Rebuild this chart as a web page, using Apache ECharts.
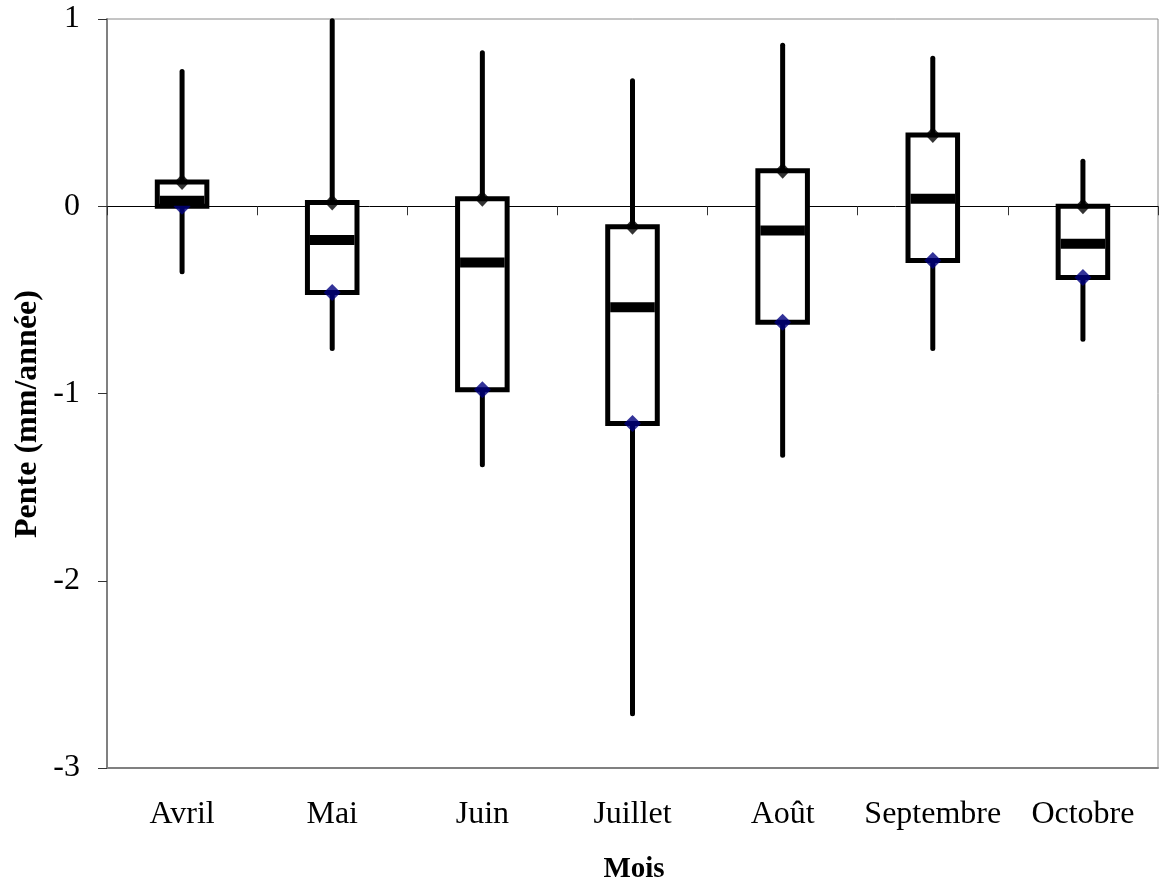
<!DOCTYPE html>
<html>
<head>
<meta charset="utf-8">
<style>
html,body{margin:0;padding:0;background:#fff;}
#chart{width:1160px;height:886px;}
</style>
<script src="https://cdn.jsdelivr.net/npm/echarts@6/dist/echarts.min.js"></script>
</head>
<body>
<div id="chart"></div>
<script>
const categories = ['Avril', 'Mai', 'Juin', 'Juillet', 'Août', 'Septembre', 'Octobre'];
const maxVals = [0.72, 0.99, 0.82, 0.67, 0.86, 0.79, 0.24];
const q3Vals  = [0.13, 0.02, 0.04, -0.11, 0.19, 0.38, 0.00];
const medVals = [0.03, -0.18, -0.30, -0.54, -0.13, 0.04, -0.20];
const q1Vals  = [0.00, -0.46, -0.98, -1.16, -0.62, -0.29, -0.38];
const minVals = [-0.35, -0.76, -1.38, -2.71, -1.33, -0.76, -0.71];
const yTicks = [-3, -2, -1, 0, 1];

const FONT = "'Liberation Serif', 'Times New Roman', serif";

const boxData = categories.map((c, i) => [i, maxVals[i], q3Vals[i], medVals[i], q1Vals[i], minVals[i]]);
const medData = categories.map((c, i) => [i, medVals[i]]);

function renderBox(params, api) {
  const i = api.value(0);
  const pMax = api.coord([i, api.value(1)]);
  const pQ3 = api.coord([i, api.value(2)]);
  const pQ1 = api.coord([i, api.value(4)]);
  const pMin = api.coord([i, api.value(5)]);
  const band = api.size([1, 0])[0];
  const bw = band * 0.33;
  const x = pMax[0];
  return {
    type: 'group',
    children: [
      {
        type: 'line',
        shape: { x1: x, y1: pMax[1], x2: x, y2: pMin[1] },
        style: { stroke: '#000', lineWidth: 5, lineCap: 'round' }
      },
      {
        type: 'rect',
        shape: { x: x - bw / 2, y: pQ3[1], width: bw, height: pQ1[1] - pQ3[1] },
        style: { fill: '#fff', stroke: '#000', lineWidth: 5 }
      }
    ]
  };
}

function renderMedian(params, api) {
  const i = api.value(0);
  const p = api.coord([i, api.value(1)]);
  const band = api.size([1, 0])[0];
  const bw = band * 0.33;
  const inner = bw - 5;
  return {
    type: 'rect',
    shape: { x: p[0] - inner / 2, y: p[1] - 5, width: inner, height: 10 },
    style: { fill: '#000' }
  };
}

const chart = echarts.init(document.getElementById('chart'), null, { renderer: 'canvas' });
chart.setOption({
  animation: false,
  backgroundColor: '#fff',
  grid: {
    left: 107, right: 2, top: 19, bottom: 118,
    show: true, borderColor: '#8a8a8a', borderWidth: 1, backgroundColor: 'transparent'
  },
  xAxis: [
    {
      type: 'category',
      data: categories,
      boundaryGap: true,
      axisLine: { show: true, onZero: true, lineStyle: { color: '#000', width: 1 } },
      axisTick: { show: true, interval: 0, length: 9, lineStyle: { color: '#333', width: 1 } },
      axisLabel: { show: false },
      splitLine: { show: false }
    },
    {
      type: 'category',
      data: categories,
      position: 'bottom',
      boundaryGap: true,
      axisLine: { show: true, onZero: false, lineStyle: { color: '#808080', width: 2 } },
      axisTick: { show: false },
      axisLabel: { show: true, interval: 0, fontFamily: FONT, fontSize: 32, color: '#000', margin: 31 },
      splitLine: { show: false }
    }
  ],
  yAxis: {
    type: 'value',
    min: yTicks[0],
    max: yTicks[yTicks.length - 1],
    interval: 1,
    axisLine: { show: true, lineStyle: { color: '#808080', width: 2 } },
    axisTick: { show: true, length: 9, lineStyle: { color: '#333', width: 1 } },
    axisLabel: { fontFamily: FONT, fontSize: 32, color: '#000', margin: 27 },
    splitLine: { show: false }
  },
  graphic: [
    {
      type: 'text',
      x: 28, y: 414,
      rotation: Math.PI / 2,
      style: {
        text: 'Pente (mm/année)',
        font: "bold 32px 'Liberation Serif', 'Times New Roman', serif",
        fill: '#000', textAlign: 'center', textVerticalAlign: 'middle'
      }
    },
    {
      type: 'text',
      x: 634, y: 870,
      style: {
        text: 'Mois',
        font: "bold 29px 'Liberation Serif', 'Times New Roman', serif",
        fill: '#000', textAlign: 'center', textVerticalAlign: 'middle'
      }
    }
  ],
  series: [
    {
      type: 'custom',
      xAxisIndex: 0,
      renderItem: renderBox,
      data: boxData,
      encode: { x: 0, y: [1, 2, 4, 5] },
      z: 2
    },
    {
      type: 'scatter',
      xAxisIndex: 0,
      data: q1Vals,
      symbol: 'diamond',
      symbolSize: [17, 17],
      itemStyle: { color: '#000080' },
      z: 3
    },
    {
      type: 'scatter',
      xAxisIndex: 0,
      data: q3Vals,
      symbol: 'diamond',
      symbolSize: [15, 16],
      itemStyle: { color: '#000' },
      z: 3
    },
    {
      type: 'custom',
      xAxisIndex: 0,
      renderItem: renderMedian,
      data: medData,
      encode: { x: 0, y: 1 },
      z: 4
    }
  ]
});
</script>
</body>
</html>
